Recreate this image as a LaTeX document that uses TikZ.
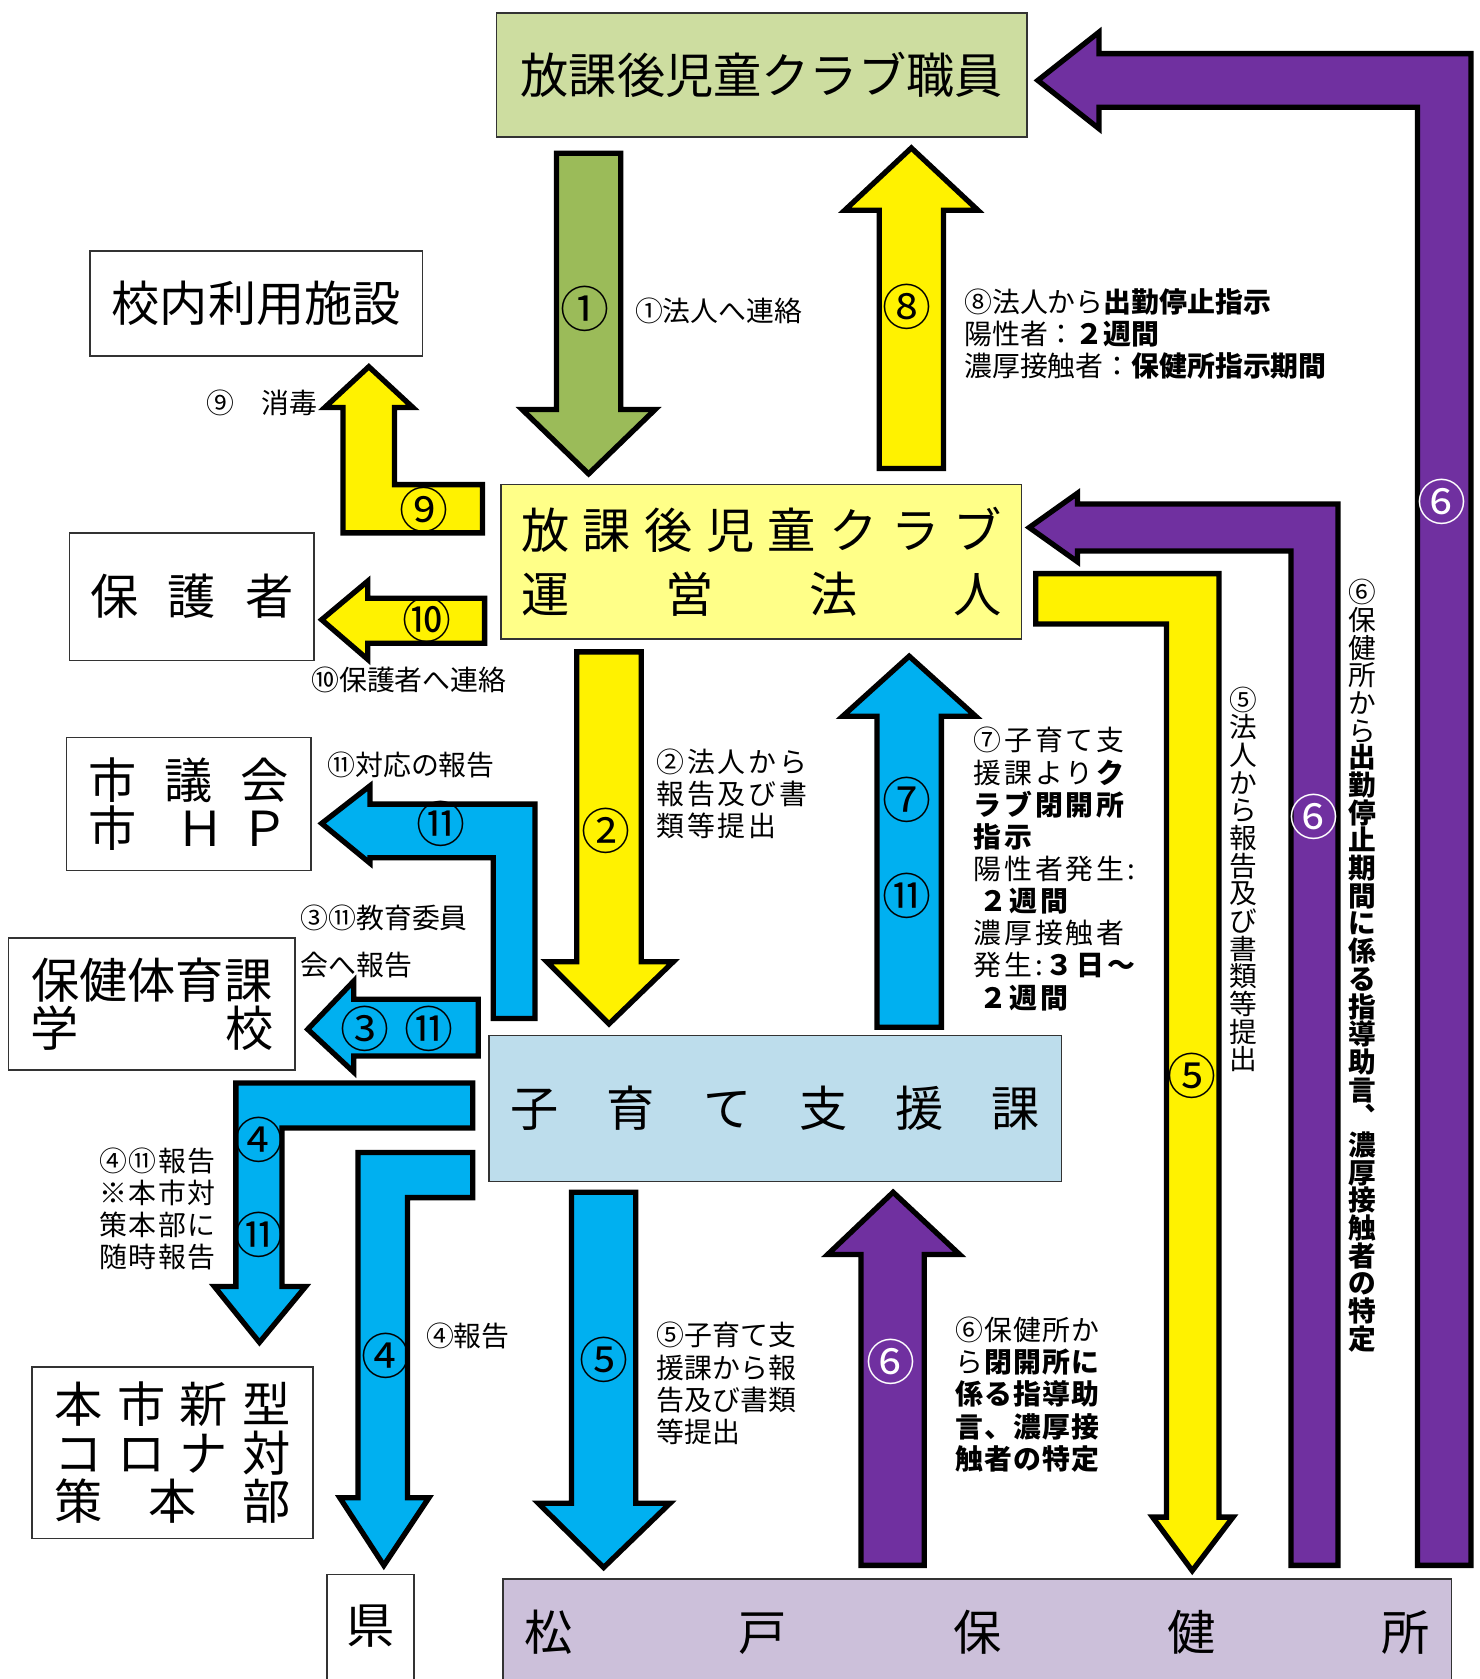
\documentclass[tikz,border=0pt]{standalone}
\usepackage{fontspec}
\setmainfont{Noto Sans CJK JP}
\definecolor{staffgreen}{RGB}{205,221,160}
\definecolor{arrowgreen}{RGB}{155,187,89}
\definecolor{corpyellow}{RGB}{255,255,136}
\definecolor{kidsblue}{RGB}{189,221,236}
\definecolor{arrowblue}{RGB}{0,176,240}
\definecolor{arrowpurple}{RGB}{112,48,160}
\definecolor{hclavender}{RGB}{204,192,218}
\tikzset{
  box/.style={draw=black!80, line width=0.8pt, inner sep=0pt},
  blk/.style={draw=black, line width=2.8pt, line join=miter},
  num/.style={font=\fontsize{26}{26}\selectfont, inner sep=0pt},
  wnum/.style={num, text=white},
  big/.style={font=\fontsize{25.6}{25.6}\selectfont, align=center},
  note/.style={font=\fontsize{14.8}{17.07}\selectfont, inner sep=0pt, align=left},
  spaced/.style={font=\fontsize{14.8}{17.07}\selectfont\addfontfeature{LetterSpace=#1}},
  tate/.style={font=\fontsize{14.7}{14.7}\selectfont, inner sep=0pt, align=center}
}
\begin{document}
\begin{tikzpicture}[x=0.02cm, y=-0.02cm]
  \useasboundingbox (0,0) rectangle (1380,1566);
  % boxes
  \node[box, fill=staffgreen, minimum width=9.9cm, minimum height=2.32cm, big] (staff) at (710.5,70) {放課後児童クラブ職員};
  \node[box, minimum width=6.2cm, minimum height=1.96cm, big] (facility) at (239,283) {校内利用施設};
  \node[box, minimum width=4.56cm, minimum height=2.38cm, big] (parents) at (179,556.5) {\makebox[3.8cm][s]{保 護 者}};
  \node[box, minimum width=4.56cm, minimum height=2.48cm, big] (council) at (176,750) {\makebox[3.74cm][s]{市 議 会}\\\makebox[3.74cm]{市\hfill Ｈ\hspace{0.3cm}Ｐ}};
  \node[box, minimum width=5.34cm, minimum height=2.46cm, big] (school) at (141.5,936.5) {保健体育課\\\makebox[4.54cm][s]{学 校}};
  \node[box, minimum width=5.24cm, minimum height=3.2cm, big] (hq) at (161,1355) {\makebox[4.4cm][s]{本 市 新 型}\\\makebox[4.4cm][s]{コ ロ ナ 対}\\\makebox[4.4cm][s]{策 本 部}};
  \node[box, minimum width=1.62cm, minimum height=2.8cm, anchor=north] (pref) at (345.5,1468) {};
  \node[big] (preftext) at (345.5,1517) {県};
  \node[box, fill=hclavender, minimum width=17.7cm, minimum height=2.8cm, anchor=north] (hc) at (911.5,1472) {};
  \node[big] (hctext) at (911.5,1522) {\makebox[16.9cm][s]{松 戸 保 健 所}};
  \node[box, fill=corpyellow, minimum width=9.72cm, minimum height=2.88cm, font=\fontsize{25.6}{34.1}\selectfont, align=center] (corp) at (710,524) {\makebox[8.96cm][s]{放 課 後 児 童 ク ラ ブ}\\\makebox[8.96cm][s]{運 営 法 人}};
  \node[box, fill=kidsblue, minimum width=10.68cm, minimum height=2.72cm, big] (kids) at (723,1034) {\makebox[9.86cm][s]{子 育 て 支 援 課}};

  % arrows round the corporation
  \draw[blk, fill=arrowgreen] (519,143) -- (579,143) -- (579,382) -- (611,382) -- (549,442) -- (487,382) -- (519,382) -- cycle;
  \node[num] at (546,288) {①};
  \draw[blk, fill=yellow] (820,437) -- (880,437) -- (880,196) -- (912,196) -- (850,138) -- (788,196) -- (820,196) -- cycle;
  \node[num] at (846,286) {⑧};
  \draw[blk, fill=yellow] (450,452) -- (450,497) -- (320,497) -- (320,380) -- (303,380) -- (344,342) -- (385,380) -- (368,380) -- (368,452) -- cycle;
  \node[num] at (395,476) {⑨};
  \draw[blk, fill=yellow] (452,558) -- (452,600) -- (343,600) -- (343,615) -- (300,578) -- (343,542) -- (343,558) -- cycle;
  \node[num] at (398,578) {⑩};
  \draw[blk, fill=yellow] (538,608) -- (598,608) -- (598,897) -- (628,897) -- (568,955) -- (510,897) -- (538,897) -- cycle;
  \node[num] at (565,775) {②};
  \draw[blk, fill=yellow] (966,535) -- (1137,535) -- (1137,1415) -- (1150,1415) -- (1112,1465) -- (1075,1415) -- (1088,1415) -- (1088,582) -- (966,582) -- cycle;
  \node[num] at (1112,1003) {⑤};

  % arrows from the health centre
  \draw[blk, fill=arrowpurple] (1322,1460) -- (1372,1460) -- (1372,50) -- (1025,50) -- (1025,30) -- (968,75) -- (1025,120) -- (1025,100) -- (1322,100) -- cycle;
  \node[wnum] at (1345,468) {⑥};
  \draw[blk, fill=arrowpurple] (1204,1460) -- (1248,1460) -- (1248,470) -- (1005,470) -- (1005,460) -- (960,492) -- (1005,524) -- (1005,514) -- (1204,514) -- cycle;
  \node[wnum] at (1226,762) {⑥};
  \draw[blk, fill=arrowpurple] (803,1460) -- (862,1460) -- (862,1170) -- (895,1170) -- (833,1112) -- (772,1170) -- (803,1170) -- cycle;
  \node[wnum] at (831,1270) {⑥};

  % arrows round the child-rearing section
  \draw[blk, fill=arrowblue] (818,958) -- (878,958) -- (878,668) -- (910,668) -- (848,612) -- (786,668) -- (818,668) -- cycle;
  \node[num] at (846,746) {⑦};
  \node[num] at (846,836) {⑪};
  \draw[blk, fill=arrowblue] (499,950) -- (460,950) -- (460,800) -- (345,800) -- (345,805) -- (300,768) -- (345,733) -- (345,750) -- (499,750) -- cycle;
  \node[num] at (411,768) {⑪};
  \draw[blk, fill=arrowblue] (446,932) -- (446,985) -- (330,985) -- (330,1000) -- (287,960) -- (330,915) -- (330,932) -- cycle;
  \node[num] at (340,960) {③};
  \node[num] at (400,960) {⑪};
  \draw[blk, fill=arrowblue] (441,1010) -- (441,1052) -- (263,1052) -- (263,1200) -- (285,1200) -- (242,1252) -- (200,1200) -- (220,1200) -- (220,1010) -- cycle;
  \node[num] at (242,1063) {④};
  \node[num] at (242,1152) {⑪};
  \draw[blk, fill=arrowblue] (441,1075) -- (441,1117) -- (380,1117) -- (380,1397) -- (400,1397) -- (358,1460) -- (317,1397) -- (334,1397) -- (334,1075) -- cycle;
  \node[num] at (360,1265) {④};
  \draw[blk, fill=arrowblue] (533,1112) -- (593,1112) -- (593,1402) -- (625,1402) -- (563,1462) -- (502,1402) -- (533,1402) -- cycle;
  \node[num] at (563,1268) {⑤};

  % notes
  \node[note, anchor=west] (n1) at (592,290) {①法人へ連絡};
  \node[note, anchor=north west] (n8) at (899,269) {⑧法人から\textbf{出勤停止指示}\\陽性者：\textbf{２週間}\\濃厚接触者：\textbf{保健所指示期間}};
  \node[note, anchor=west] (n9) at (192,376) {⑨　消毒};
  \node[note, anchor=west] (n10) at (290,634) {⑩保護者へ連絡};
  \node[note, anchor=west] (n11) at (305,713) {⑪対応の報告};
  \node[note, anchor=north west] (n311) at (280,844) {③⑪教育委員\\[7.9pt]会へ報告};
  \node[note, spaced=10, anchor=north west] (n2) at (612,698) {②法人から\\報告及び書\\類等提出};
  \node[note, spaced=10, anchor=north west] (n7) at (908,678) {⑦子育て支\\援課より\textbf{ク}\\\textbf{ラブ閉開所}\\\textbf{指示}\\陽性者発生:\\\hspace{0.1cm}\textbf{２週間}\\濃厚接触者\\発生:\textbf{３日～}\\\hspace{0.1cm}\textbf{２週間}};
  \node[note, spaced=6, anchor=north west] (n411) at (92,1070) {④⑪報告\\※本市対\\策本部に\\随時報告};
  \node[note, anchor=west] (n4) at (397,1246) {④報告};
  \node[note, anchor=north west] (n5) at (612,1233) {⑤子育て支\\援課から報\\告及び書類\\等提出};
  \node[note, spaced=4, anchor=north west] (n6) at (891,1228) {⑥保健所か\\ら\textbf{閉開所に}\\\textbf{係る指導助}\\\textbf{言、濃厚接}\\\textbf{触者の特定}};
  \node[tate, anchor=north] (v5) at (1160,640) {⑤\\法\\人\\か\\ら\\報\\告\\及\\び\\書\\類\\等\\提\\出};
  \node[tate, anchor=north] (v6a) at (1271,540) {⑥\\保\\健\\所\\か\\ら};
  \node[tate, font=\fontsize{14.7}{14.7}\selectfont\bfseries, anchor=north] (v6b) at (1271,694) {出\\勤\\停\\止\\期\\間\\に\\係\\る\\指\\導\\助\\言\\︑\\濃\\厚\\接\\触\\者\\の\\特\\定};
\end{tikzpicture}
\end{document}
